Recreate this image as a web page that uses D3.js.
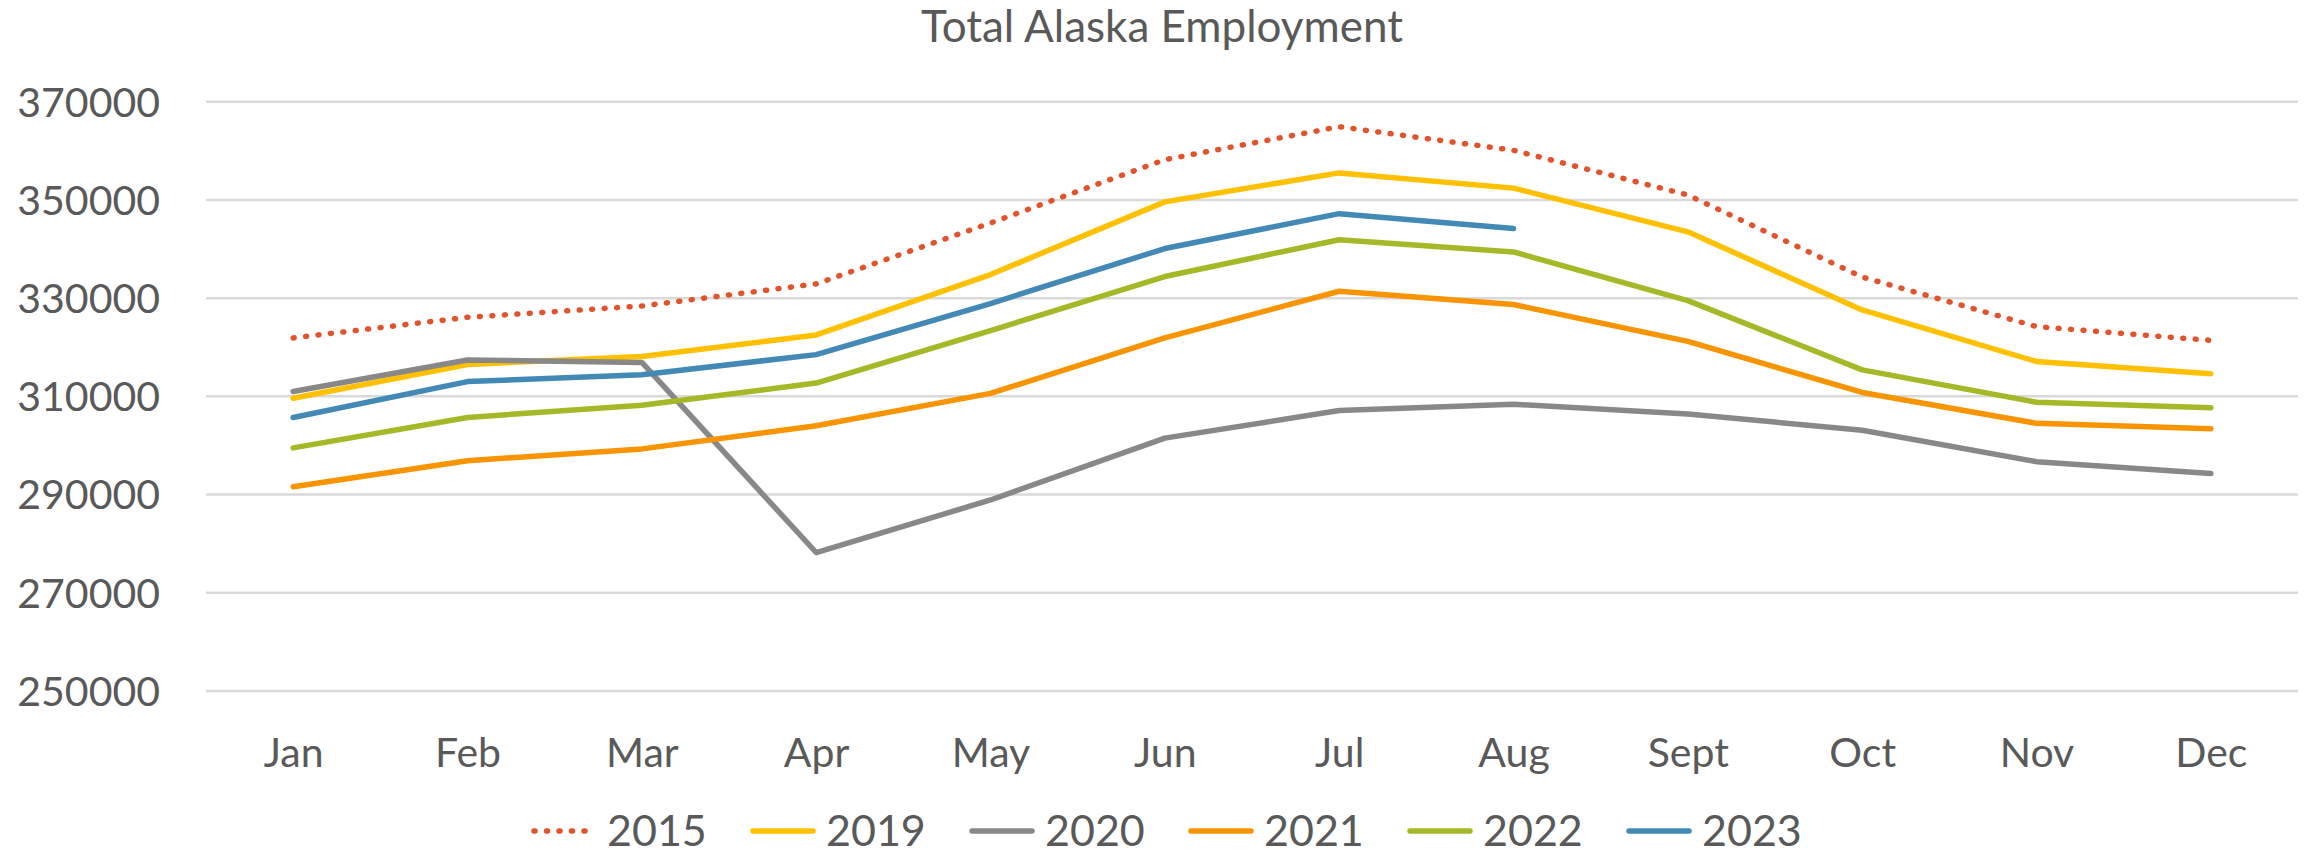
<!DOCTYPE html>
<html>
<head>
<meta charset="utf-8">
<script src="https://cdn.jsdelivr.net/npm/d3@7"></script>
<style>
  html, body { margin: 0; padding: 0; background: #fff; }
  svg text { font-family: Lato, "Open Sans", sans-serif; fill: #595959; }
</style>
</head>
<body>
<svg id="chart" width="2305" height="856"></svg>
<script>
const months = ["Jan","Feb","Mar","Apr","May","Jun","Jul","Aug","Sept","Oct","Nov","Dec"];
const yTicks = [250000, 270000, 290000, 310000, 330000, 350000, 370000];
const years = ["2015","2019","2020","2021","2022","2023"];
const v2015 = [321900, 326100, 328400, 332900, 345300, 358200, 364900, 360100, 351000, 334300, 324200, 321400];
const v2019 = [309600, 316500, 318100, 322500, 334800, 349600, 355500, 352400, 343500, 327600, 317100, 314600];
const v2020 = [311000, 317400, 316900, 278200, 288900, 301500, 307100, 308400, 306400, 303100, 296700, 294300];
const v2021 = [291600, 296900, 299300, 304000, 310600, 321900, 331400, 328700, 321200, 310800, 304500, 303400];
const v2022 = [299500, 305700, 308200, 312700, 323400, 334400, 341900, 339400, 329500, 315400, 308800, 307700];
const v2023 = [305700, 313000, 314400, 318500, 328900, 340100, 347200, 344200];
const colors = ["#E2532B", "#FFC000", "#888888", "#F79400", "#A6B827", "#4389B5"];

const seriesValues = [v2015, v2019, v2020, v2021, v2022, v2023];

const svg = d3.select("#chart");
const plotLeft = 206, plotRight = 2298, plotTop = 101.7, plotBottom = 691;

const x = d3.scalePoint().domain(months).range([plotLeft, plotRight]).padding(0.5);
const y = d3.scaleLinear().domain([250000, 370000]).range([plotBottom, plotTop]);

// title
svg.append("text")
  .attr("x", 1162).attr("y", 42)
  .attr("text-anchor", "middle")
  .style("font-size", "44px")
  .text("Total Alaska Employment");

// gridlines
svg.append("g").selectAll("line").data(yTicks).join("line")
  .attr("x1", plotLeft).attr("x2", plotRight)
  .attr("y1", d => y(d)).attr("y2", d => y(d))
  .attr("stroke", "#D9D9D9").attr("stroke-width", 2.5);

// y axis
const yAxis = d3.axisLeft(y).tickValues(yTicks).tickFormat(d3.format("d")).tickSize(0).tickPadding(0);
const gy = svg.append("g").attr("transform", `translate(160,0)`).call(yAxis);
gy.select(".domain").remove();
gy.selectAll("text").style("font-size", "41px").attr("dy", "0.35em").style("fill", "#595959").style("font-family", "Lato");

// x axis
const xAxis = d3.axisBottom(x).tickSize(0).tickPadding(0);
const gx = svg.append("g").attr("transform", `translate(0,753)`).call(xAxis);
gx.select(".domain").remove();
gx.selectAll("text").style("font-size", "41px").attr("dy", "0.35em").style("fill", "#595959").style("font-family", "Lato");

// lines
const line = d3.line().x((d, i) => x(months[i])).y(d => y(d));
seriesValues.forEach((vals, k) => {
  const p = svg.append("path")
    .datum(vals)
    .attr("d", line)
    .attr("fill", "none")
    .attr("stroke", colors[k])
    .attr("stroke-width", 5.5)
    .attr("stroke-linejoin", "round")
    .attr("stroke-linecap", "round");
  if (k === 0) p.attr("stroke-dasharray", "1 11.5");
});

// legend
const legX0 = 531, legStep = 219, legY = 831;
const lg = svg.append("g");
years.forEach((yr, k) => {
  const gx0 = legX0 + k * legStep;
  const l = lg.append("line")
    .attr("x1", gx0 + 3).attr("x2", gx0 + 63)
    .attr("y1", legY).attr("y2", legY)
    .attr("stroke", colors[k]).attr("stroke-width", 5.5)
    .attr("stroke-linecap", "round");
  if (k === 0) l.attr("stroke-dasharray", "1 11.5");
  lg.append("text")
    .attr("x", gx0 + 76).attr("y", legY)
    .attr("dy", "0.35em")
    .style("font-size", "43px")
    .text(yr);
});
</script>
</body>
</html>
